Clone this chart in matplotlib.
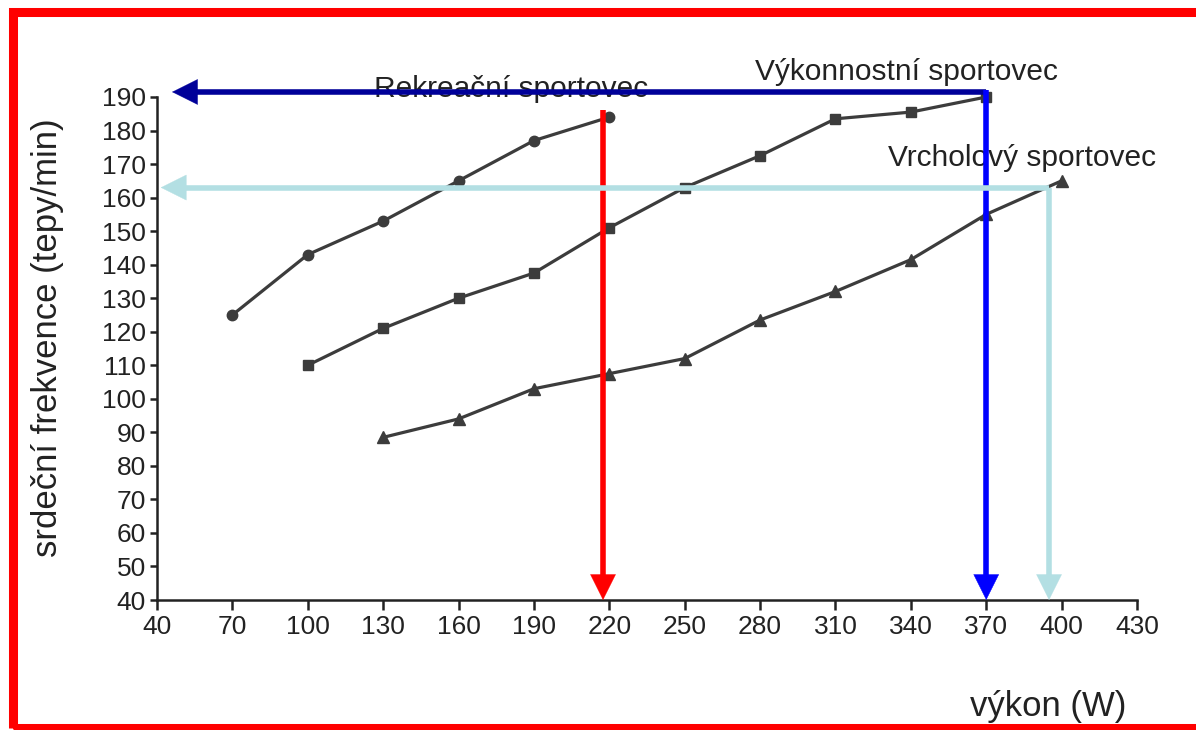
import matplotlib
matplotlib.use("Agg")
import matplotlib.pyplot as plt
from matplotlib.patches import Rectangle

# ---- data ----
rek_x = [70, 100, 130, 160, 190, 220]
rek_y = [125, 143, 153, 165, 177, 184]

vyk_x = [100, 130, 160, 190, 220, 250, 280, 310, 340, 370]
vyk_y = [110, 121, 130, 137.5, 151, 163, 172.5, 183.5, 185.5, 190]

vrc_x = [130, 160, 190, 220, 250, 280, 310, 340, 370, 400]
vrc_y = [88.5, 94, 103, 107.5, 112, 123.5, 132, 141.5, 155, 165]

x_ticks = [40, 70, 100, 130, 160, 190, 220, 250, 280, 310, 340, 370, 400, 430]
y_ticks = [40, 50, 60, 70, 80, 90, 100, 110, 120, 130, 140, 150, 160, 170, 180, 190]

series_labels = ["Rekreační sportovec", "Výkonnostní sportovec", "Vrcholový sportovec"]
label_pos = [(126.5, 190.0), (278, 195.0), (331, 169.5)]

# max heart rate / power guides
rek_max_x, rek_top = 217.5, 186
vyk_max_x, vyk_max_y = 370, 191.5
vrc_max_x, vrc_max_y = 395, 163
arrow_end_vyk = 46
arrow_end_vrc = 41.5

plt.rcParams['font.family'] = ['Liberation Sans', 'DejaVu Sans']

fig = plt.figure(figsize=(11.96, 7.30), dpi=100)
ax = fig.add_axes([157/1196, 130/730, 980/1196, 503/730])

line_col = '#3c3c3c'
ax.plot(rek_x, rek_y, color=line_col, lw=2.3, marker='o', ms=7.5, clip_on=False, zorder=3)
ax.plot(vyk_x, vyk_y, color=line_col, lw=2.3, marker='s', ms=7.5, clip_on=False, zorder=3)
ax.plot(vrc_x, vrc_y, color=line_col, lw=2.3, marker='^', ms=8.5, clip_on=False, zorder=3)

ax.set_xlim(40, 430)
ax.set_ylim(40, 190)
ax.set_xticks(x_ticks)
ax.set_yticks(y_ticks)
ax.tick_params(axis='x', labelsize=19, length=7, width=1.8, color='#222222', pad=4, labelcolor='#222222')
ax.tick_params(axis='y', labelsize=19, length=5, width=1.8, color='#222222', pad=3, labelcolor='#222222')
for s in ['top', 'right']:
    ax.spines[s].set_visible(False)
for s in ['left', 'bottom']:
    ax.spines[s].set_linewidth(1.8)
    ax.spines[s].set_color('#222222')

HEAD_PX = 18.0

def arrow(x0, y0, x1, y1, col, lw=4):
    # shaft ends partway into the head so its square end is hidden
    t0 = ax.transData.transform((x0, y0))
    t1 = ax.transData.transform((x1, y1))
    d = t1 - t0
    L = (d[0] ** 2 + d[1] ** 2) ** 0.5
    end_px = t1 - d / L * (HEAD_PX * 0.6)
    xe, ye = ax.transData.inverted().transform(end_px)
    ax.plot([x0, xe], [y0, ye], color=col, lw=lw, solid_capstyle='butt', clip_on=False, zorder=5)
    ax.annotate('', xy=(x1, y1), xytext=(x0, y0),
                arrowprops=dict(arrowstyle='-|>,head_length=1.0,head_width=0.5', color=col, lw=0.3,
                                mutation_scale=HEAD_PX, shrinkA=0, shrinkB=0),
                annotation_clip=False, zorder=5)

# red: recreational
arrow(rek_max_x, rek_top, rek_max_x, 40, '#ff0000')
# navy horizontal + blue vertical: performance athlete
arrow(vyk_max_x, vyk_max_y, arrow_end_vyk, vyk_max_y, '#000099')
arrow(vyk_max_x, vyk_max_y + 0.6, vyk_max_x, 40, '#0000ff')
# light blue: top athlete
arrow(vrc_max_x, vrc_max_y, arrow_end_vrc, vrc_max_y, '#b3dfe3')
arrow(vrc_max_x, vrc_max_y, vrc_max_x, 40, '#b3dfe3')

for lab, (lx, ly) in zip(series_labels, label_pos):
    ax.text(lx, ly, lab, fontsize=21.5, color='#222222', ha='left', va='baseline', clip_on=False, zorder=4)

ax.text(363.5, 5.5, 'výkon (W)', fontsize=25, color='#222222', ha='left', va='baseline', clip_on=False)
fig.text(48/1196, 1 - 338/730, 'srdeční frekvence (tepy/min)', fontsize=25, color='#222222',
         rotation=90, ha='center', va='center')

# red frame
fig.patches.append(Rectangle((12.5/1196, 2/730), 1.2, 716/730, transform=fig.transFigure,
                             fill=False, edgecolor='#ff0000', lw=6.5, zorder=10))

fig.savefig('out.png', dpi=100)
